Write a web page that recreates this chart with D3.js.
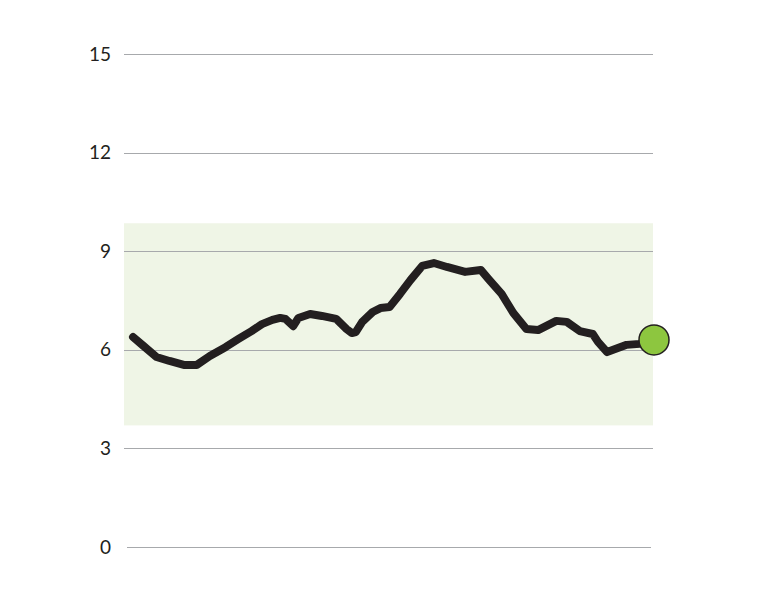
<!DOCTYPE html>
<meta charset="utf-8">
<style>
body { margin: 0; background: #fff; }
.tick-label { font: 19px Lato, "Open Sans", sans-serif; fill: #231f20; }
.grid line { stroke: #a7a9ac; stroke-width: 1.2; }
.band { fill: #eff5e6; }
.series { fill: none; stroke: #231f20; stroke-width: 8; stroke-linejoin: round; stroke-linecap: round; }
.end-dot { fill: #8dc63f; stroke: #231f20; stroke-width: 1.5; }
</style>
<body>
<script src="https://cdn.jsdelivr.net/npm/d3@7"></script>
<script>

// data (x = week index, y = value)
var weeks = [0, 0.8, 1.8, 2.8, 3.9, 4.9, 5.9, 7.1, 8.1, 9.1, 9.9, 10.7, 11.3, 11.7, 12.3, 12.7,
  13.6, 14.5, 15.6, 16.4, 16.8, 17.1, 17.6, 18.4, 19.0, 19.7, 20.5, 21.3, 22.2, 23.1, 24.1,
  25.5, 26.7, 27.3, 28.3, 29.2, 30.2, 31.1, 32.5, 33.3, 34.3, 35.3, 35.7, 36.4, 37.9, 38.9, 40];
var values = [6.39, 6.12, 5.78, 5.66, 5.54, 5.54, 5.81, 6.08, 6.33, 6.57, 6.78, 6.91, 6.97, 6.94, 6.72, 6.97,
  7.09, 7.03, 6.94, 6.63, 6.51, 6.54, 6.85, 7.15, 7.27, 7.30, 7.70, 8.12, 8.55, 8.64, 8.52,
  8.37, 8.43, 8.15, 7.70, 7.12, 6.63, 6.60, 6.88, 6.85, 6.57, 6.48, 6.24, 5.93, 6.15, 6.18, 6.30];
var yTicks = [0, 3, 6, 9, 12, 15];
var band = [3.7, 9.85];

var svg = d3.select("body").append("svg")
    .attr("width", 760)
    .attr("height", 600);

var x = d3.scaleLinear()
    .domain([0, 40])
    .range([133, 654]);

var y = d3.scaleLinear()
    .domain([0, 15])
    .range([547, 54]);

// shaded normal range
svg.append("rect")
    .attr("class", "band")
    .attr("x", 124)
    .attr("width", 653 - 124)
    .attr("y", y(band[1]))
    .attr("height", y(band[0]) - y(band[1]));

// gridlines
var grid = svg.append("g")
    .attr("class", "grid");

grid.selectAll("line")
  .data(yTicks)
  .enter().append("line")
    .attr("x1", function(d) { return d === 0 ? 127 : 124; })
    .attr("x2", function(d) { return d === 0 ? 651 : 653; })
    .attr("y1", function(d) { return Math.round(y(d)) + 0.5; })
    .attr("y2", function(d) { return Math.round(y(d)) + 0.5; });

svg.selectAll(".tick-label")
  .data(yTicks)
  .enter().append("text")
    .attr("class", "tick-label")
    .attr("text-anchor", "end")
    .attr("x", 111)
    .attr("y", function(d) { return y(d); })
    .attr("dy", "0.35em")
    .text(function(d) { return d; });

// the line
var line = d3.line()
    .x(function(d, i) { return x(weeks[i]); })
    .y(function(d) { return y(d); });

svg.append("path")
    .datum(values)
    .attr("class", "series")
    .attr("d", line);

// last point marker
var last = values.length - 1;
svg.append("circle")
    .attr("class", "end-dot")
    .attr("cx", x(weeks[last]))
    .attr("cy", y(values[last]))
    .attr("r", 15);

</script>
</body>
